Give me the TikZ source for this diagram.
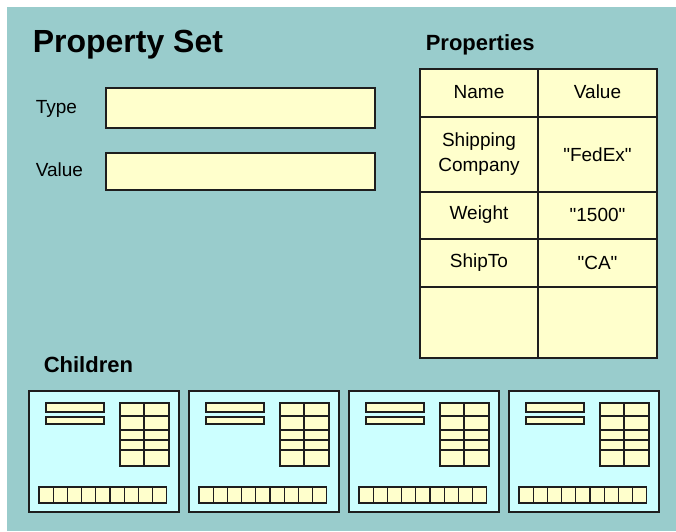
\documentclass[tikz,border=0pt]{standalone}
\usepackage{fontspec}
\setmainfont{Liberation Sans}
% same face, but without the TeX quote mapping
\newfontfamily\plainfont{Liberation Sans}

\definecolor{panelteal}{HTML}{99CCCC}
\definecolor{cellcream}{HTML}{FFFFCC}
\definecolor{childcyan}{HTML}{CCFFFF}
\definecolor{inkline}{HTML}{1E1E1E}

% straight double quotes round a value
\newcommand{\strval}[1]{{\plainfont"#1"}}

\tikzset{
  heading/.style={anchor=base west, inner sep=0, font=\bfseries},
  label/.style={anchor=base west, inner sep=0, font=\fontsize{19}{23}\selectfont},
  celltext/.style={inner sep=0, align=center, font=\fontsize{19}{25}\selectfont},
}

\begin{document}
\begin{tikzpicture}[x=1pt, y=-1pt, line width=1.6pt, draw=inkline]

      \useasboundingbox (0,0) rectangle (676,531);

      % the coloured panel behind everything
      \fill[panelteal] (7,7) rectangle (676,531);

      % title and the two fields
      \node[heading, font=\fontsize{32}{36}\selectfont\bfseries] (title) at (32,52) {Property Set};

      \node[label] (typelabel) at (35,113) {Type};
      \draw[fill=cellcream] (106,88) rectangle (375,128);

      \node[label] (valuelabel) at (35,176) {Value};
      \draw[fill=cellcream] (106,153) rectangle (375,190);

      % the properties table
      \node[heading, font=\fontsize{22}{26}\selectfont\bfseries] (props) at (425,50) {Properties};

      \draw[fill=cellcream] (420,69) rectangle (657,358);
      \draw (538,69) -- (538,358);
      \draw (420,117) -- (657,117);
      \draw (420,192) -- (657,192);
      \draw (420,239) -- (657,239);
      \draw (420,287) -- (657,287);

      \node[celltext] (namehead) at (479,92) {Name};
      \node[celltext] (valuehead) at (597.5,92) {Value};
      \node[celltext] (shipname) at (479,154.5) {Shipping\\Company};
      \node[celltext] (shipvalue) at (597.5,154.5) {\strval{FedEx}};
      \node[celltext] (weightname) at (479,215) {Weight};
      \node[celltext] (weightvalue) at (597.5,215) {\strval{1500}};
      \node[celltext] (shiptoname) at (479,263) {ShipTo};
      \node[celltext] (shiptovalue) at (597.5,263) {\strval{CA}};

      % the children, each one a small copy of the set
      \node[heading, font=\fontsize{22}{26}\selectfont\bfseries] (children) at (43,372) {Children};

      \foreach \cx in {29,189,349,509} {
        \draw[fill=childcyan] (\cx,391) rectangle ++(150,121);
        % two fields
        \draw[fill=cellcream, line width=1.3pt] (\cx+17,403) rectangle ++(58,9);
        \draw[fill=cellcream, line width=1.3pt] (\cx+17,417) rectangle ++(58,7);
        % small table
        \draw[fill=cellcream, line width=1.3pt] (\cx+91,403) rectangle ++(49,63);
        \draw[line width=1.3pt] (\cx+115,403) -- ++(0,63);
        \foreach \ry in {416,430,440,450}
          \draw[line width=1.3pt] (\cx+91,\ry) -- ++(49,0);
        % row of grandchildren
        \foreach \k in {0,...,8}
          \draw[fill=cellcream, line width=1.3pt] ({\cx+10+\k*14.2},487) rectangle ++(14.2,16);
      }

\end{tikzpicture}
\end{document}
